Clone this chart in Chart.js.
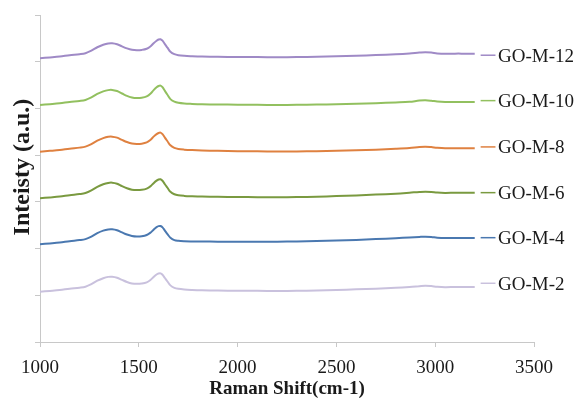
<!DOCTYPE html>
<html>
<head>
<meta charset="utf-8">
<script src="https://cdn.jsdelivr.net/npm/chart.js@4.4.0/dist/chart.umd.min.js"></script>
<style>
html,body{margin:0;padding:0;background:#fff;}
#wrap{width:577px;height:400px;}
</style>
</head>
<body>
<div id="wrap"><canvas id="c" width="577" height="400"></canvas></div>
<script>
// Raman shift positions (cm-1)
const shifts = [1000,1050,1100,1150,1200,1230,1260,1290,1320,1345,1365,1390,1415,1440,1465,1490,1515,1540,1560,1575,1590,1600,1610,1620,1632,1645,1660,1680,1700,1730,1770,1820,1900,2000,2100,2200,2300,2400,2500,2600,2700,2800,2870,2920,2950,2980,3010,3050,3100,3150,3200];

const goM12 = [6075,6092,6111,6139,6161,6182,6236,6310,6364,6392,6396,6375,6328,6285,6255,6246,6253,6278,6332,6396,6450,6475,6482,6450,6375,6300,6214,6161,6139,6126,6118,6111,6105,6101,6099,6096,6099,6105,6116,6129,6143,6161,6178,6195,6203,6195,6178,6169,6173,6173,6173];
const goM10 = [5075,5092,5111,5139,5161,5182,5236,5310,5364,5392,5396,5372,5320,5268,5235,5223,5230,5258,5320,5392,5452,5480,5488,5455,5375,5292,5200,5145,5120,5105,5097,5090,5084,5080,5077,5075,5077,5082,5090,5100,5112,5128,5142,5168,5175,5165,5148,5138,5140,5140,5140];
const goM8  = [4075,4092,4111,4139,4161,4182,4236,4310,4364,4392,4396,4375,4326,4280,4248,4240,4246,4272,4330,4396,4450,4475,4482,4450,4375,4298,4210,4155,4132,4118,4108,4100,4092,4086,4081,4078,4080,4085,4093,4104,4118,4135,4152,4175,4182,4172,4157,4146,4148,4148,4148];
const goM6  = [3077,3094,3113,3142,3166,3188,3244,3321,3377,3406,3411,3389,3335,3290,3260,3252,3258,3284,3336,3400,3454,3478,3484,3452,3377,3302,3216,3163,3141,3128,3120,3113,3107,3103,3101,3098,3102,3110,3123,3138,3156,3176,3196,3212,3218,3212,3198,3192,3196,3197,3197];
const goM4  = [2092,2110,2130,2158,2181,2202,2256,2330,2384,2410,2413,2392,2345,2300,2270,2258,2264,2290,2345,2405,2458,2480,2484,2455,2385,2310,2230,2180,2165,2157,2153,2150,2148,2147,2147,2148,2152,2160,2172,2186,2203,2222,2238,2250,2255,2248,2233,2225,2227,2227,2227];
const goM2  = [1077,1094,1113,1141,1163,1184,1238,1312,1366,1394,1398,1377,1330,1285,1254,1245,1252,1277,1332,1392,1445,1465,1469,1440,1370,1295,1212,1160,1138,1124,1115,1108,1102,1098,1095,1092,1095,1102,1113,1127,1142,1160,1178,1195,1205,1197,1182,1173,1177,1178,1178];

const seriesNames = ['GO-M-12','GO-M-10','GO-M-8','GO-M-6','GO-M-4','GO-M-2'];
const seriesValues = [goM12, goM10, goM8, goM6, goM4, goM2];
const seriesColors = ['#9F8AC6','#92C05F','#DF8140','#7A9A40','#4A78B0','#C9C1DD'];

// label leader levels and x extent
const labelLevels = [6139,5167,4176,3197,2233,1257];
const leaderX = [3230, 3305];
const labelTextX = 3318;

const xTicks = [1000,1500,2000,2500,3000,3500];
const yMin = 0, yMax = 7000, yStep = 1000;

const serif = "'Liberation Serif','Times New Roman',serif";

const datasets = [];
seriesValues.forEach((vals, i) => {
  datasets.push({
    label: seriesNames[i],
    data: shifts.map((s, k) => ({x: s, y: vals[k]})),
    borderColor: seriesColors[i],
    borderWidth: 2,
    pointRadius: 0,
    fill: false,
    tension: 0.35
  });
});
seriesNames.forEach((n, i) => {
  datasets.push({
    label: n + ' leader',
    data: leaderX.map(x => ({x: x, y: labelLevels[i]})),
    borderColor: seriesColors[i],
    borderWidth: 1.5,
    pointRadius: 0,
    fill: false
  });
});

const labelPlugin = {
  id: 'seriesLabels',
  afterDatasetsDraw(chart) {
    const {ctx, scales: {x, y}, chartArea} = chart;
    ctx.save();
    ctx.font = "19px " + serif;
    ctx.fillStyle = '#1a1a1a';
    ctx.textAlign = 'left';
    ctx.textBaseline = 'middle';
    seriesNames.forEach((n, i) => {
      ctx.fillText(n, x.getPixelForValue(labelTextX), y.getPixelForValue(labelLevels[i]) + 1.5);
    });
    // y axis title
    ctx.font = "bold 24px " + serif;
    ctx.translate(23, chartArea.top + (chartArea.bottom - chartArea.top) * 0.465);
    ctx.rotate(-Math.PI / 2);
    ctx.textAlign = 'center';
    ctx.fillText('Inteisty (a.u.)', 0, 0);
    ctx.restore();
  }
};

new Chart(document.getElementById('c'), {
  type: 'line',
  data: { datasets },
  plugins: [labelPlugin],
  options: {
    responsive: false,
    animation: false,
    events: [],
    layout: { padding: { left: 0, right: 43, top: 15, bottom: 0 } },
    plugins: { legend: { display: false }, tooltip: { enabled: false } },
    scales: {
      x: {
        type: 'linear',
        min: 1000, max: 3500,
        afterBuildTicks: s => { s.ticks = xTicks.map(v => ({value: v})); },
        afterFit: s => { s.height = 58; },
        grid: { drawOnChartArea: false, drawTicks: true, tickLength: 5, color: '#C8C8C8' },
        border: { display: true, color: '#C8C8C8' },
        ticks: { color: '#1a1a1a', font: { family: serif, size: 19 }, padding: 10, maxRotation: 0, callback: v => String(v) },
        title: { display: true, text: 'Raman Shift(cm-1)', color: '#1a1a1a', font: { family: serif, size: 19, weight: 'bold' }, padding: { top: 0, bottom: 0 } }
      },
      y: {
        type: 'linear',
        min: yMin, max: yMax,
        ticks: { display: false, stepSize: yStep },
        afterFit: s => { s.width = 40; },
        grid: { drawOnChartArea: false, drawTicks: true, tickLength: 5, color: '#C8C8C8' },
        border: { display: true, color: '#C8C8C8' }
      }
    }
  }
});
</script>
</body>
</html>
